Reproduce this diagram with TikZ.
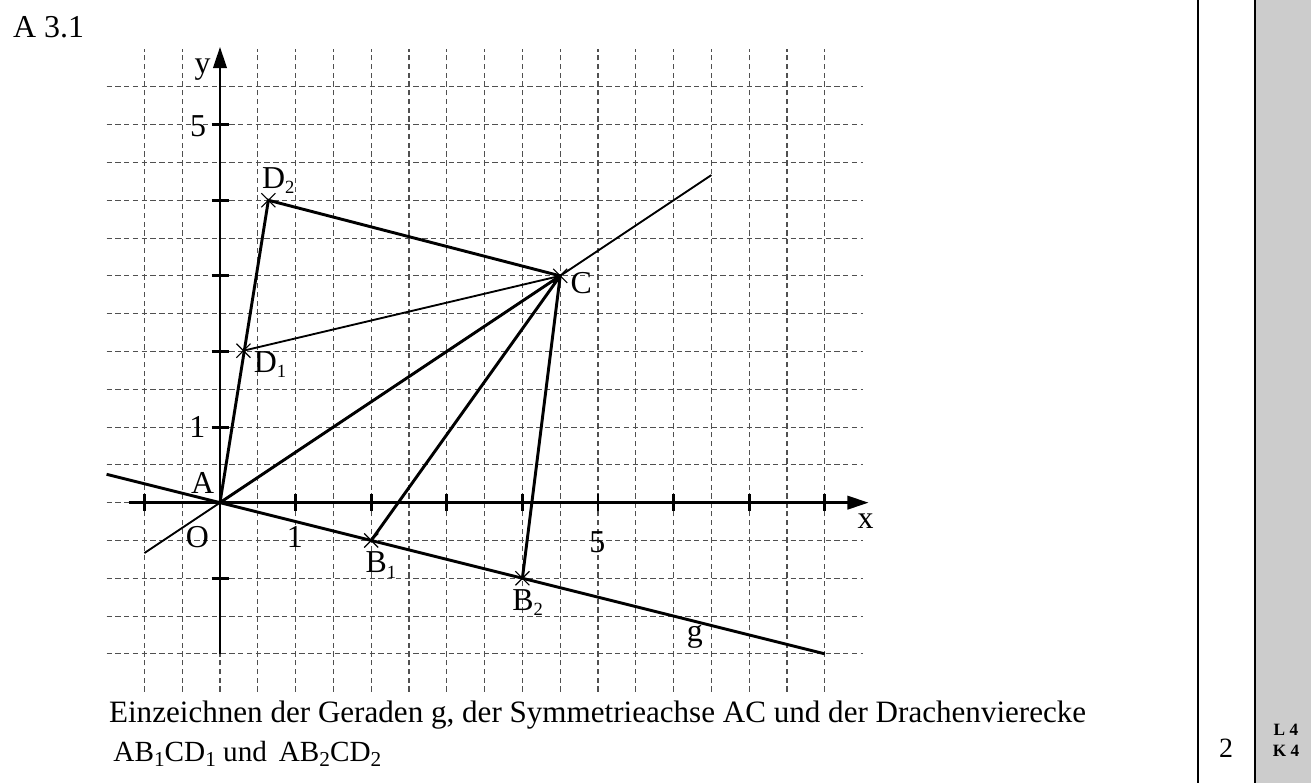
\documentclass[tikz,border=0pt]{standalone}
\usepackage{fontspec}
\setmainfont{Liberation Serif}
\usepackage{tikz}
\usetikzlibrary{positioning,arrows.meta,shapes.misc}
\usepackage{xcolor}
\definecolor{sidegrey}{HTML}{CCCCCC}
\definecolor{gridgrey}{HTML}{505050}
\newcommand{\idx}[2][7]{\raisebox{-2pt}{\fontsize{#1}{#1}\selectfont #2}}

\begin{document}
\begin{tikzpicture}[
    every node/.style={font=\fontsize{12}{14}\selectfont, inner sep=0pt},
    gridLine/.style={draw=gridgrey, line width=0.4pt, dash pattern=on 2pt off 1.3pt},
    axisLine/.style={-{Triangle[length=8pt,width=5pt]}, line width=1.1pt},
    tickLine/.style={line width=1.1pt},
    kiteLine/.style={line width=1.1pt},
    thinLine/.style={line width=0.7pt},
    crossMark/.style={cross out, draw, line width=0.45pt, minimum size=0.17cm},
    frameLine/.style={line width=0.8pt}
]
    % Rahmen und Randspalten
    \useasboundingbox (-2.910,-3.708) rectangle (14.431,6.649);
    \fill[sidegrey] (13.69,-3.708) rectangle (14.431,6.649);
    \draw[frameLine] (12.933,-3.708) -- (12.933,6.649);
    \draw[frameLine] (13.69,-3.708) -- (13.69,6.649);

    % Karogitter
    \foreach \gx in {-1,-0.5,...,8}
        \draw[gridLine] (\gx,-2.5) -- (\gx,6);
    \foreach \gy in {-2,-1.5,...,5.5}
        \draw[gridLine] (-1.5,\gy) -- (8.5,\gy);

    % Achsen
    \draw[axisLine] (-1.21,0) -- (8.58,0);
    \draw[axisLine] (0,-2) -- (0,6.03);
    \foreach \t in {-1,1,2,...,8}
        \draw[tickLine] (\t,0.11) -- (\t,-0.11);
    \foreach \t in {-1,1,2,...,5}
        \draw[tickLine] (-0.11,\t) -- (0.12,\t);

    % Punkte
    \coordinate (A) at (0,0);
    \coordinate (B1) at (2,-0.5);
    \coordinate (B2) at (4,-1);
    \coordinate (C) at (4.5,3);
    \coordinate (D1) at (0.31,2.01);
    \coordinate (D2) at (0.64,4.0);
    \coordinate (gL) at (-1.5,0.375);
    \coordinate (gR) at (8,-2);
    \coordinate (sL) at (-1,-0.667);
    \coordinate (sR) at (6.5,4.333);

    % Symmetrieachse und Gerade g
    \draw[thinLine] (sL) -- (sR);
    \draw[kiteLine] (gL) -- (gR);

    % Drachenvierecke
    \draw[kiteLine] (A) -- (C);
    \draw[kiteLine] (B1) -- (C);
    \draw[kiteLine] (B2) -- (C) -- (D2) -- (A);
    \draw[thinLine] (D1) -- (C);

    % Kreuze
    \node[crossMark] (xB1) at (B1) {};
    \node[crossMark] (xB2) at (B2) {};
    \node[crossMark] (xC) at (C) {};
    \node[crossMark] (xD1) at (D1) {};
    \node[crossMark] (xD2) at (D2) {};

    % Beschriftungen
    \node[anchor=base] (yLabel) at (-0.23,5.68) {y};
    \node[anchor=center] (xLabel) at (8.54,-0.25) {x};
    \node (yFive) at (-0.29,4.98) {5};
    \node (yOne) at (-0.30,1.0) {1};
    \node (xOne) at (0.99,-0.46) {1};
    \node (xFive) at (4.99,-0.52) {5};
    \node (labA) at (-0.23,0.26) {A};
    \node (labO) at (-0.30,-0.45) {O};
    \node (labC) at (4.78,2.91) {C};
    \node[anchor=base west] (labD2) at (0.55,4.16) {D\idx{2}};
    \node[anchor=base west] (labD1) at (0.44,1.72) {D\idx{1}};
    \node[anchor=base west] (labB1) at (1.92,-0.93) {B\idx{1}};
    \node[anchor=base west] (labB2) at (3.86,-1.42) {B\idx{2}};
    \node[anchor=base west] (labg) at (6.17,-1.83) {g};

    % Aufgabentext
    \node[anchor=base west] (title) at (-2.742,6.156) {A 3.1};
    \node[anchor=base west, font=\fontsize{11.7}{14}\selectfont] (taskOne) at (-1.474,-2.910) {Einzeichnen der Geraden g, der Symmetrieachse AC und der Drachenvierecke};
    \node[anchor=base west, font=\fontsize{11}{13}\selectfont] (taskTwo) at (-1.416,-3.426) {AB\idx[8]{1}CD\idx[8]{1} und\hskip0.4em AB\idx[8]{2}CD\idx[8]{2}};

    % Punkte und Kompetenzen
    \node[anchor=base, font=\fontsize{10.5}{12}\selectfont] (points) at (13.307,-3.377) {2};
    \node[anchor=base, font=\fontsize{6.5}{7}\bfseries] (compL) at (14.10,-3.086) {L 4};
    \node[anchor=base, font=\fontsize{6.5}{7}\bfseries] (compK) at (14.10,-3.364) {K 4};
\end{tikzpicture}
\end{document}
